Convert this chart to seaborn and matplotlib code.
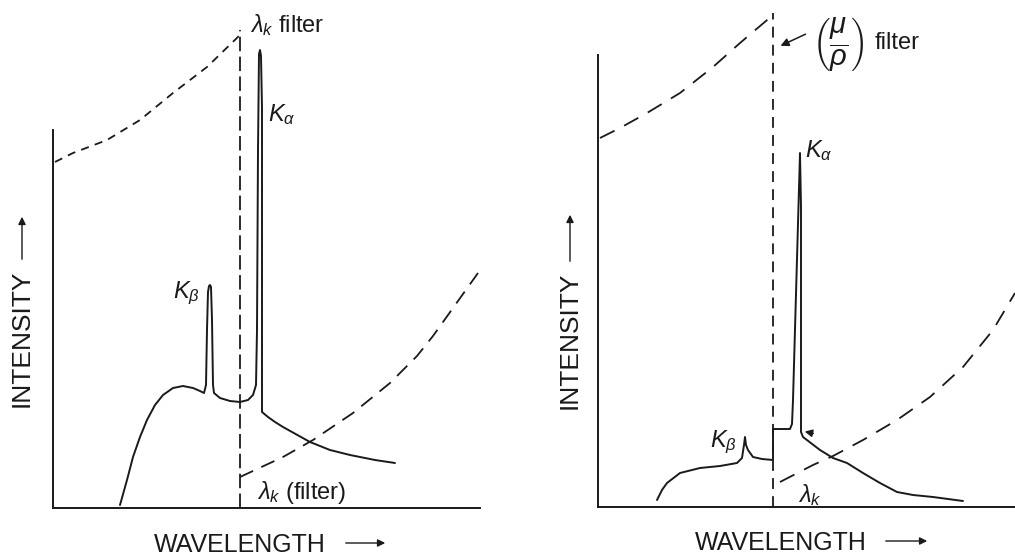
import matplotlib
matplotlib.use('Agg')
import matplotlib.pyplot as plt
from matplotlib.patches import FancyArrowPatch
import seaborn as sns

# ---------------- data (arbitrary wavelength / intensity units) ----------------
# Left panel: spectrum with filter absorption edge inside the Kbeta-Kalpha gap
L_abs_hi_x = [2, 20, 54, 87, 120, 154, 187]
L_abs_hi_y = [346, 355, 368, 388, 415, 441, 473]
L_edge_x = [187, 187]
L_edge_y = [0, 478]
L_abs_lo_x = [187, 230, 260, 300, 337, 364, 380, 425]
L_abs_lo_y = [31, 51, 68, 95, 125, 152, 172, 235]
L_spec_x = [67, 74, 80, 87, 94, 102, 110, 120, 130, 140, 147, 151,
            153, 154, 155, 156, 157, 158, 159, 160, 161,
            167, 177, 187, 195, 200, 203,
            204, 205, 206, 207, 208, 209, 209,
            215, 222, 230, 257, 277, 297, 322, 342]
L_spec_y = [3, 28, 51, 71, 88, 103, 113, 120, 122, 120, 117, 115,
            123, 178, 216, 222, 223, 221, 188, 123, 115,
            110, 107, 106, 108, 113, 123,
            178, 358, 454, 458, 452, 400, 96,
            91, 86, 81, 66, 58, 53, 48, 45]
L_ylen = 378

# Right panel: filter edge at shorter wavelength than Kbeta->Kalpha
R_abs_hi_x = [2, 22, 49, 82, 115, 142, 175]
R_abs_hi_y = [369, 379, 394, 414, 440, 464, 492]
R_edge_x = [175, 175]
R_edge_y = [0, 494]
R_abs_lo_x = [182, 215, 235, 265, 299, 332, 365, 395, 417]
R_abs_lo_y = [25, 42, 51, 67, 87, 110, 140, 177, 214]
R_spec_x = [59, 64, 69, 82, 102, 122, 139, 144, 146, 147, 148, 150, 155, 164, 175,
            175, 192, 194, 195, 202, 203, 203,
            205, 222, 235, 249, 265, 282, 299, 315, 335, 365]
R_spec_y = [7, 17, 24, 34, 39, 41, 44, 49, 62, 70, 62, 57, 50, 48, 47,
            78, 78, 83, 107, 354, 300, 75,
            70, 57, 49, 44, 34, 24, 15, 12, 10, 6]
R_ylen = 452

# ---------------- style ----------------
sns.set_theme(style='white')
plt.rcParams['font.family'] = ['Liberation Sans', 'DejaVu Sans']
plt.rcParams['mathtext.fontset'] = 'custom'
plt.rcParams['mathtext.rm'] = 'Liberation Sans'
plt.rcParams['mathtext.it'] = 'Liberation Sans:italic'
plt.rcParams['mathtext.bf'] = 'Liberation Sans:bold'

INK = '#1a1a1a'
W, H = 1015, 557
fig = plt.figure(figsize=(W / 100, H / 100), dpi=100)
fig.patch.set_facecolor('white')

ax1 = fig.add_axes([53 / W, 49 / H, 427 / W, 508 / H])
ax2 = fig.add_axes([598 / W, 50 / H, 417 / W, 507 / H])


def style_axis(ax, xmax, ymax, ylen):
    ax.set_xlim(0, xmax)
    ax.set_ylim(0, ymax)
    ax.set_xticks([])
    ax.set_yticks([])
    ax.set_facecolor('none')
    for s in ['top', 'right']:
        ax.spines[s].set_visible(False)
    for s in ['left', 'bottom']:
        ax.spines[s].set_color(INK)
        ax.spines[s].set_linewidth(1.4)
    ax.spines['left'].set_bounds(0, ylen)
    ax.set_xlabel('')
    ax.set_ylabel('')


def curve(ax, xs, ys, ls='-', lw=1.3):
    sns.lineplot(x=xs, y=ys, ax=ax, estimator=None, sort=False,
                 color=INK, linewidth=lw, linestyle=ls)


# left panel
curve(ax1, L_abs_hi_x, L_abs_hi_y, ls=(0, (4.5, 3.5)))
curve(ax1, L_edge_x, L_edge_y, ls=(0, (8, 3)))
curve(ax1, L_abs_lo_x, L_abs_lo_y, ls=(0, (8, 5)))
curve(ax1, L_spec_x, L_spec_y, lw=1.4)
style_axis(ax1, 427, 508, L_ylen)

# right panel
curve(ax2, R_abs_hi_x, R_abs_hi_y, ls=(0, (9, 6)))
curve(ax2, R_edge_x, R_edge_y, ls=(0, (6, 4)))
curve(ax2, R_abs_lo_x, R_abs_lo_y, ls=(0, (9, 6)))
curve(ax2, R_spec_x, R_spec_y, lw=1.4)
style_axis(ax2, 417, 507, R_ylen)

# ---------------- annotations ----------------
fs = 17
ax1.text(197, 483, r'$\lambda_k$ filter', fontsize=fs, color=INK, ha='left', va='center')
ax1.text(215, 393, r'$K_\alpha$', fontsize=fs, color=INK, ha='left', va='center')
ax1.text(120, 215, r'$K_\beta$', fontsize=fs, color=INK, ha='left', va='center')
ax1.text(204, 15, r'$\lambda_k$ (filter)', fontsize=fs, color=INK, ha='left', va='center')

ax2.text(207, 356, r'$K_\alpha$', fontsize=fs, color=INK, ha='left', va='center')
ax2.text(112, 65, r'$K_\beta$', fontsize=fs, color=INK, ha='left', va='center')
ax2.text(200, 12, r'$\lambda_k$', fontsize=fs, color=INK, ha='left', va='center')
ax2.text(214, 462, r'$\left(\dfrac{\mu}{\rho}\right)$', fontsize=21, color=INK,
         ha='left', va='center')
ax2.text(277, 464, 'filter', fontsize=fs, color=INK, ha='left', va='center')
ax2.annotate('', xy=(180, 460), xytext=(210, 474),
             arrowprops=dict(arrowstyle='-|>', color=INK, lw=1.1, mutation_scale=12))
ax2.annotate('', xy=(204, 76), xytext=(218, 73),
             arrowprops=dict(arrowstyle='-|>', color=INK, lw=1.1, mutation_scale=11))

# axis titles with arrows
for cx, cy, a0, a1 in [(22, 338, 262, 214), (570, 340, 264, 212)]:
    fig.text(cx / W, 1 - cy / H, 'INTENSITY', rotation=90, ha='center', va='center',
             fontsize=19, color=INK)
    fig.add_artist(FancyArrowPatch(
        (cx / W, 1 - a0 / H), (cx / W, 1 - a1 / H), transform=fig.transFigure,
        arrowstyle='-|>', mutation_scale=11, color=INK, lw=1.0))

for cx, cy, a0, a1 in [(240, 545, 343, 388), (781, 543, 883, 930)]:
    fig.text(cx / W, 1 - cy / H, 'WAVELENGTH', ha='center', va='center',
             fontsize=18, color=INK)
    fig.add_artist(FancyArrowPatch(
        (a0 / W, 1 - (cy - 2) / H), (a1 / W, 1 - (cy - 2) / H), transform=fig.transFigure,
        arrowstyle='-|>', mutation_scale=11, color=INK, lw=1.0))

fig.savefig('out.png', dpi=100, facecolor='white')
